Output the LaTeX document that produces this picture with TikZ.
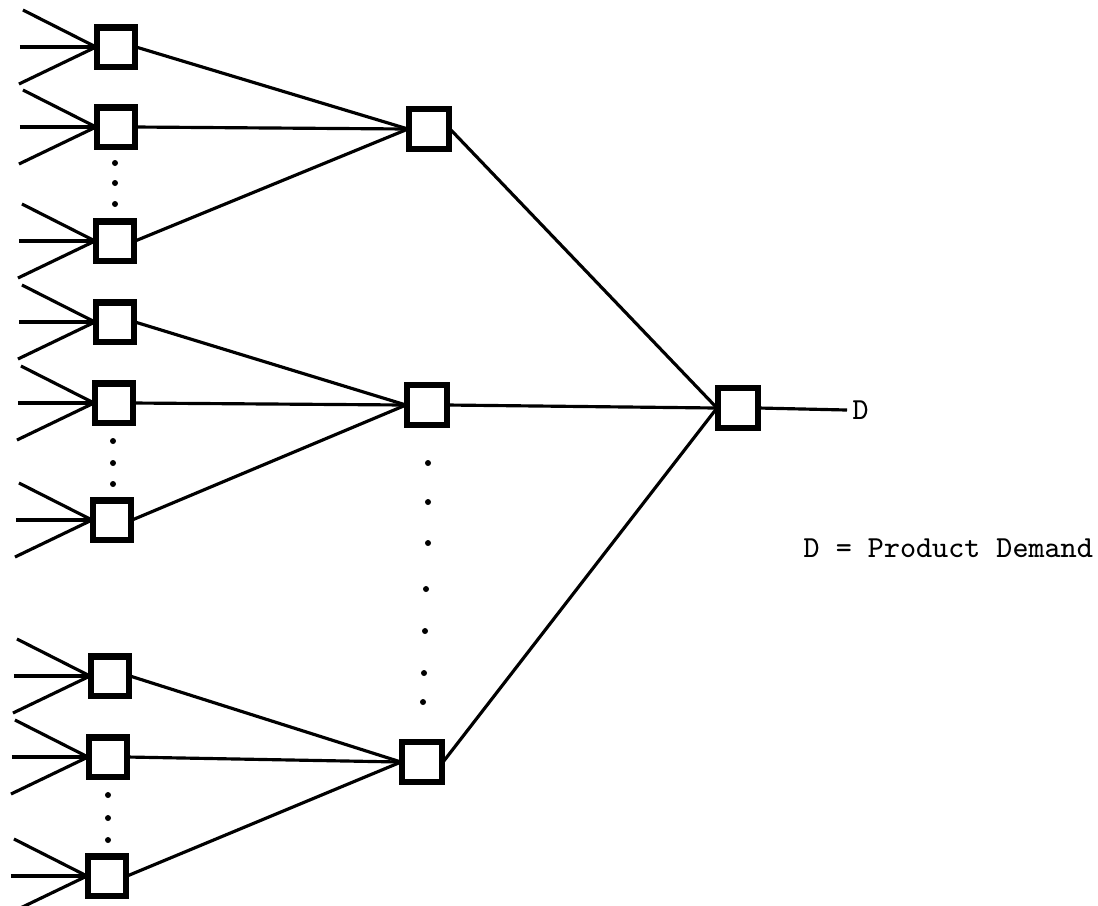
\documentclass[tikz,border=0pt]{standalone}
\usetikzlibrary{calc}
\tikzset{
  unit/.style={draw, line width=1.15pt, fill=white, minimum width=0.36cm, minimum height=0.37cm, inner sep=0pt},
  hub/.style={unit, minimum width=0.38cm, minimum height=0.38cm},
  link/.style={line width=0.9pt},
  dotmark/.style={fill=black, circle, inner sep=0pt, minimum size=0.06cm},
  label/.style={font=\ttfamily\fontsize{8.7}{10}\selectfont, inner sep=0pt}
}
\begin{document}
\begin{tikzpicture}[x=0.01cm, y=-0.01cm]
  \clip (0,0) rectangle (1098,905);
  \fill[white] (0,0) rectangle (1098,905);

  % final assembly stage and its demand output
  \node[hub] (R) at (738,408) {};
  \coordinate (out) at (847,410);
  \node[label, anchor=west] (dlab) at (852,410) {D};
  \node[label, anchor=base west] (legend) at (803,557) {D = Product Demand};

  % intermediate stage
  \node[hub] (A) at (429,129) {};
  \node[hub] (B) at (427,405) {};
  \node[hub] (C) at (422,762) {};

  % first stage
  \node[unit] (b1) at (116,47) {};
  \node[unit] (b2) at (116,127) {};
  \node[unit] (b3) at (115,241) {};
  \node[unit] (b4) at (115,322) {};
  \node[unit] (b5) at (114,403) {};
  \node[unit] (b6) at (112,520) {};
  \node[unit] (b7) at (110,676) {};
  \node[unit] (b8) at (108,757) {};
  \node[unit] (b9) at (107,876) {};

  % three incoming supply lines per first-stage unit
  \foreach \i in {1,...,9} {
    \coordinate (u\i) at ($(b\i.west)+(-73,-37)$);
    \coordinate (m\i) at ($(b\i.west)+(-76,0)$);
    \coordinate (l\i) at ($(b\i.west)+(-77,37)$);
    \draw[link] (u\i) -- (b\i.west);
    \draw[link] (m\i) -- (b\i.west);
    \draw[link] (l\i) -- (b\i.west);
  }

  % first stage to intermediate stage
  \foreach \i in {1,2,3} \draw[link] (b\i.east) -- (A.west);
  \foreach \i in {4,5,6} \draw[link] (b\i.east) -- (B.west);
  \foreach \i in {7,8,9} \draw[link] (b\i.east) -- (C.west);

  % intermediate stage to final assembly
  \draw[link] (A.east) -- (R.west);
  \draw[link] (B.east) -- (R.west);
  \draw[link] (C.east) -- (R.west);
  \draw[link] (R.east) -- (out);

  % ellipsis dots
  \foreach \p in {(115,163),(115,183),(115,204),
                  (113,441),(113,463),(113,484),
                  (108,795),(108,818),(108,840),
                  (428,463),(428,502),(428,543),(426,589),(425,631),(424,673),(423,702)}
    \node[dotmark] at \p {};

  % redraw box outlines on top of the connector ends
  \foreach \n in {A,B,C,R,b1,b2,b3,b4,b5,b6,b7,b8,b9}
    \draw[line width=1.15pt] (\n.south west) rectangle (\n.north east);
\end{tikzpicture}
\end{document}
